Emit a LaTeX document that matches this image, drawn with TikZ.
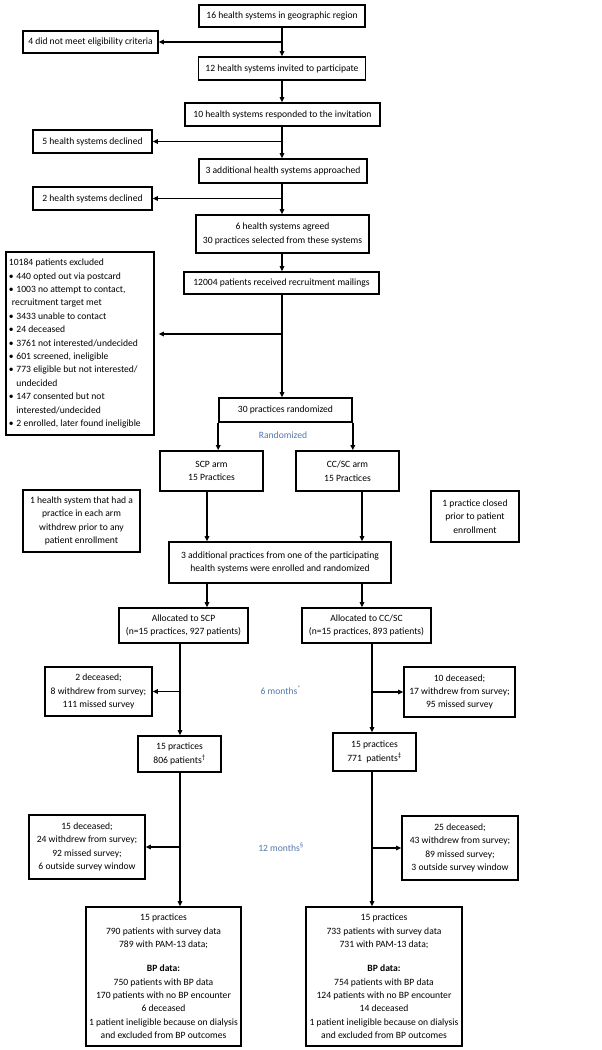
\documentclass[tikz,border=0pt]{standalone}
\usepackage{fontspec}
\setmainfont{Carlito}
\usetikzlibrary{arrows.meta}
\definecolor{lblue}{RGB}{84,120,170}
\begin{document}
\begin{tikzpicture}[x=1pt,y=-1pt,
  every node/.style={font=\fontsize{9.6}{13.4}\selectfont},
  box/.style={draw,line width=1.6pt,rectangle,align=center,inner sep=0pt},
  arr/.style={line width=1.5pt,-{Triangle[length=5pt,width=4.5pt]}},
  lbl/.style={text=lblue,inner sep=0pt}]
\useasboundingbox (0,0) rectangle (602,1050);
\fill[white] (0,0) rectangle (602,1050);
% top chain
\node[box,minimum width=166pt,minimum height=22pt] (b1) at (282,16) {16 health systems in geographic region};
\node[box,minimum width=135pt,minimum height=22pt] (elig) at (90.5,42) {4 did not meet eligibility criteria};
\node[box,minimum width=167pt,minimum height=23pt] (b2) at (282,68.5) {12 health systems invited to participate};
\node[box,minimum width=195pt,minimum height=23pt] (b3) at (282.5,114.5) {10 health systems responded to the invitation};
\node[box,minimum width=119pt,minimum height=23pt] (dec5) at (92.5,141.5) {5 health systems declined};
\node[box,minimum width=168pt,minimum height=24pt] (b4) at (283,171) {3 additional health systems approached};
\node[box,minimum width=119pt,minimum height=23pt] (dec2) at (92.5,198.5) {2 health systems declined};
\node[box,minimum width=173pt,minimum height=38pt] (b5) at (282.5,234) {6 health systems agreed\\30 practices selected from these systems};
\node[box,minimum width=148pt,minimum height=183pt,align=left] (excl) at (80,343.5) {%
\begin{minipage}{142pt}\raggedright
10184 patients excluded\\
\makebox[7.5pt][l]{•}440 opted out via postcard\\
\makebox[7.5pt][l]{•}1003 no attempt to contact,\\
\hspace*{3pt}recruitment target met\\
\makebox[7.5pt][l]{•}3433 unable to contact\\
\makebox[7.5pt][l]{•}24 deceased\\
\makebox[7.5pt][l]{•}3761 not interested/undecided\\
\makebox[7.5pt][l]{•}601 screened, ineligible\\
\makebox[7.5pt][l]{•}773 eligible but not interested/\\
\hspace*{7.5pt}undecided\\
\makebox[7.5pt][l]{•}147 consented but not\\
\hspace*{7.5pt}interested/undecided\\
\makebox[7.5pt][l]{•}2 enrolled, later found ineligible
\end{minipage}};
\node[box,minimum width=195pt,minimum height=22pt] (b6) at (281.5,283) {12004 patients received recruitment mailings};
\node[box,minimum width=133pt,minimum height=24pt] (b7) at (285.5,410) {30 practices randomized};
\node[lbl] (rand) at (283,435) {Randomized};
\node[box,minimum width=103pt,minimum height=40pt] (scp) at (211.5,471) {SCP arm\\15 Practices};
\node[box,minimum width=103pt,minimum height=40pt] (ccsc) at (347.5,471) {CC/SC arm\\15 Practices};
\node[box,minimum width=117pt,minimum height=62pt] (notel) at (81.5,521) {1 health system that had a\\practice in each arm\\withdrew prior to any\\patient enrollment};
\node[box,minimum width=88pt,minimum height=51pt] (noter) at (475,516.5) {1 practice closed\\prior to patient\\enrollment};
\node[box,minimum width=222pt,minimum height=41pt] (b8) at (280,562.5) {3 additional practices from one of the participating\\health systems were enrolled and randomized};
\node[box,minimum width=129pt,minimum height=35pt] (allocl) at (183.5,625.5) {Allocated to SCP\\(n=15 practices, 927 patients)};
\node[box,minimum width=129pt,minimum height=35pt] (allocr) at (366.5,625.5) {Allocated to CC/SC\\(n=15 practices, 893 patients)};
\node[box,minimum width=107pt,minimum height=49pt] (l6) at (98.5,691.5) {2 deceased;\\8 withdrew from survey;\\111 missed survey};
\node[box,minimum width=111pt,minimum height=50pt] (r6) at (459.5,692) {10 deceased;\\17 withdrew from survey;\\95 missed survey};
\node[lbl] (m6) at (281,690) {6 months\textsuperscript{*}};
\node[box,minimum width=83pt,minimum height=36pt] (p806) at (179.5,754) {15 practices\\806 patients\textsuperscript{†}};
\node[box,minimum width=83pt,minimum height=38pt] (p771) at (374.5,752) {15 practices\\771\ \ patients\textsuperscript{‡}};
\node[box,minimum width=116pt,minimum height=64pt] (l12) at (87,847) {15 deceased;\\24 withdrew from survey;\\92 missed survey;\\6 outside survey window};
\node[box,minimum width=116pt,minimum height=64pt] (r12) at (460,848) {25 deceased;\\43 withdrew from survey;\\89 missed survey;\\3 outside survey window};
\node[lbl] (m12) at (281,847) {12 months\textsuperscript{§}};
\node[box,minimum width=155pt,minimum height=139pt] (fl) at (163.5,976.5) {15 practices\\790 patients with survey data\\789 with PAM-13 data;\\[10.5pt]\textbf{BP data:}\\750 patients with BP data\\170 patients with no BP encounter\\6 deceased\\1 patient ineligible because on dialysis\\and excluded from BP outcomes};
\node[box,minimum width=156pt,minimum height=139pt] (fr) at (384,976.5) {15 practices\\733 patients with survey data\\731 with PAM-13 data;\\[10.5pt]\textbf{BP data:}\\754 patients with BP data\\124 patients with no BP encounter\\14 deceased\\1 patient ineligible because on dialysis\\and excluded from BP outcomes};
% trunk coordinates
\coordinate (tm) at (282,0);
\coordinate (tsl) at (207,0);
\coordinate (tsr) at (362,0);
\coordinate (tl) at (180,0);
\coordinate (tr) at (372,0);
\coordinate (ex) at (282,334);
% connectors
\draw[arr] (b1.south -| tm) -- (b2.north -| tm);
\draw[arr] (tm |- elig.east) -- (elig.east);
\draw[arr] (b2.south -| tm) -- (b3.north -| tm);
\draw[arr] (b3.south -| tm) -- (b4.north -| tm);
\draw[arr] (tm |- dec5.east) -- (dec5.east);
\draw[arr] (b4.south -| tm) -- (b5.north -| tm);
\draw[arr] (tm |- dec2.east) -- (dec2.east);
\draw[arr] (b5.south -| tm) -- (b6.north -| tm);
\draw[arr] (b6.south -| tm) -- (b7.north -| tm);
\draw[arr,shorten >=4pt] (ex) -- (excl.east |- ex);
\draw[arr] (b7.south west) -- (b7.south west |- scp.north);
\draw[arr] (b7.south east) -- (b7.south east |- ccsc.north);
\draw[arr] (scp.south -| tsl) -- (b8.north -| tsl);
\draw[arr] (ccsc.south -| tsr) -- (b8.north -| tsr);
\draw[arr] (b8.south -| tsl) -- (allocl.north -| tsl);
\draw[arr] (b8.south -| tsr) -- (allocr.north -| tsr);
\draw[arr] (allocl.south -| tl) -- (p806.north -| tl);
\draw[arr] (tl |- l6.east) -- (l6.east);
\draw[arr] (allocr.south -| tr) -- (p771.north -| tr);
\draw[arr] (tr |- r6.west) -- (r6.west);
\draw[arr] (p806.south -| tl) -- (fl.north -| tl);
\draw[arr] (tl |- l12.east) -- (l12.east);
\draw[arr] (p771.south -| tr) -- (fr.north -| tr);
\draw[arr] (tr |- r12.west) -- (r12.west);
\end{tikzpicture}
\end{document}
